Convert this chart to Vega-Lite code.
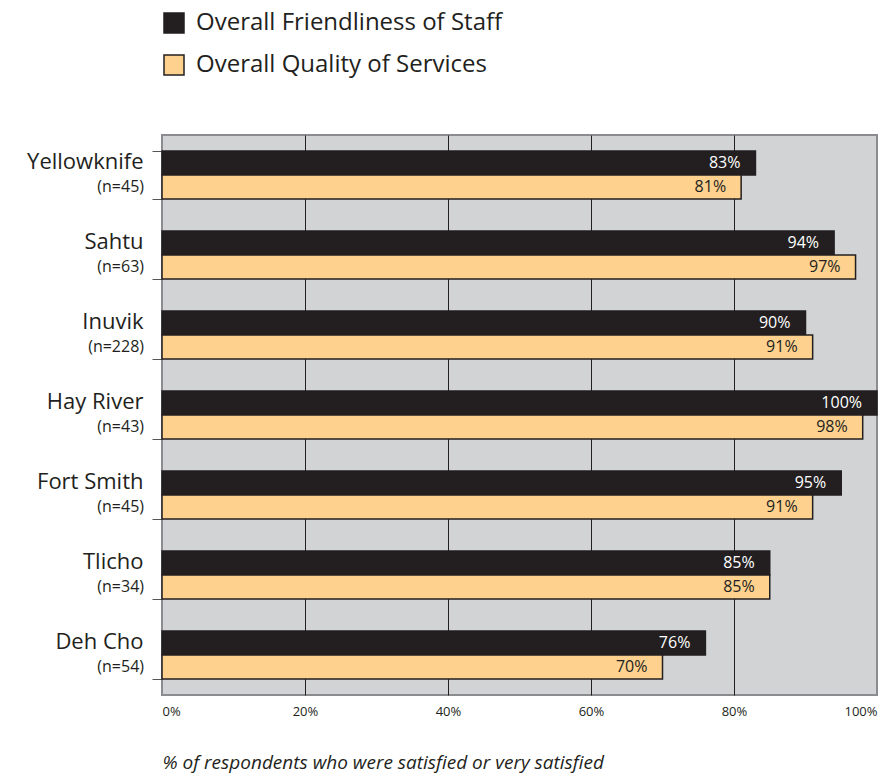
{
  "$schema": "https://vega.github.io/schema/vega-lite/v6.json",
  "width": 715,
  "height": 560,
  "autosize": {"type": "none"},
  "padding": {"left": 162, "top": 135, "right": 10, "bottom": 80},
  "background": "white",
  "config": {
    "font": "Open Sans",
    "view": {"fill": "#d1d3d4", "stroke": "#8a8c8f", "strokeWidth": 2}
  },
  "data": {
    "values": [
      {"region": "Yellowknife", "n": "(n=45)", "series": "Overall Friendliness of Staff", "value": 0.83},
      {"region": "Yellowknife", "n": "(n=45)", "series": "Overall Quality of Services", "value": 0.81},
      {"region": "Sahtu", "n": "(n=63)", "series": "Overall Friendliness of Staff", "value": 0.94},
      {"region": "Sahtu", "n": "(n=63)", "series": "Overall Quality of Services", "value": 0.97},
      {"region": "Inuvik", "n": "(n=228)", "series": "Overall Friendliness of Staff", "value": 0.90},
      {"region": "Inuvik", "n": "(n=228)", "series": "Overall Quality of Services", "value": 0.91},
      {"region": "Hay River", "n": "(n=43)", "series": "Overall Friendliness of Staff", "value": 1.00},
      {"region": "Hay River", "n": "(n=43)", "series": "Overall Quality of Services", "value": 0.98},
      {"region": "Fort Smith", "n": "(n=45)", "series": "Overall Friendliness of Staff", "value": 0.95},
      {"region": "Fort Smith", "n": "(n=45)", "series": "Overall Quality of Services", "value": 0.91},
      {"region": "Tlicho", "n": "(n=34)", "series": "Overall Friendliness of Staff", "value": 0.85},
      {"region": "Tlicho", "n": "(n=34)", "series": "Overall Quality of Services", "value": 0.85},
      {"region": "Deh Cho", "n": "(n=54)", "series": "Overall Friendliness of Staff", "value": 0.76},
      {"region": "Deh Cho", "n": "(n=54)", "series": "Overall Quality of Services", "value": 0.70}
    ]
  },
  "encoding": {
    "y": {
      "field": "region",
      "type": "nominal",
      "sort": ["Yellowknife", "Sahtu", "Inuvik", "Hay River", "Fort Smith", "Tlicho", "Deh Cho"],
      "scale": {"paddingInner": 0.4, "paddingOuter": 0.2},
      "axis": {
        "title": null,
        "domain": false,
        "tickBand": "extent",
        "tickSize": 10,
        "tickColor": "#555557",
        "tickWidth": 1,
        "labelFontSize": 22,
        "labelColor": "#231f20",
        "labelOffset": -14,
        "labelPadding": 9
      }
    }
  },
  "layer": [
    {
      "mark": {"type": "bar", "stroke": "#231f20", "strokeWidth": 1.5},
      "encoding": {
        "x": {
          "field": "value",
          "type": "quantitative",
          "scale": {"domain": [0, 1], "nice": false},
          "axis": {
            "values": [0, 0.2, 0.4, 0.6, 0.8, 1],
            "format": ".0%",
            "domain": false,
            "ticks": false,
            "labelFontSize": 13,
            "labelColor": "#231f20",
            "labelPadding": 10,
            "grid": true,
            "gridColor": {"condition": {"test": "datum.value > 0 && datum.value < 1", "value": "#231f20"}, "value": null},
            "gridWidth": 1,
            "gridOpacity": 1,
            "title": "% of respondents who were satisfied or very satisfied",
            "titleFont": "Open Sans",
            "titleFontStyle": "italic",
            "titleFontWeight": "normal",
            "titleFontSize": 19,
            "titleColor": "#231f20",
            "titleAnchor": "start",
            "titleAlign": "left",
            "titlePadding": 35
          }
        },
        "yOffset": {
          "field": "series",
          "type": "nominal",
          "sort": ["Overall Friendliness of Staff", "Overall Quality of Services"],
          "scale": {"paddingInner": 0, "paddingOuter": 0}
        },
        "color": {
          "field": "series",
          "type": "nominal",
          "scale": {
            "domain": ["Overall Friendliness of Staff", "Overall Quality of Services"],
            "range": ["#231f20", "#fed18e"]
          },
          "legend": {
            "title": null,
            "orient": "none",
            "legendX": 0,
            "legendY": -124,
            "direction": "vertical",
            "symbolType": "square",
            "symbolSize": 400,
            "symbolStrokeColor": "#231f20",
            "symbolStrokeWidth": 1.5,
            "symbolOpacity": 1,
            "labelFontSize": 24,
            "labelColor": "#231f20",
            "labelOffset": 10,
            "rowPadding": 16,
            "labelLimit": 600
          }
        }
      }
    },
    {
      "mark": {"type": "text", "align": "right", "baseline": "middle", "dx": -15, "fontSize": 16},
      "encoding": {
        "x": {"field": "value", "type": "quantitative"},
        "yOffset": {
          "field": "series",
          "type": "nominal",
          "sort": ["Overall Friendliness of Staff", "Overall Quality of Services"]
        },
        "text": {"field": "value", "type": "quantitative", "format": ".0%"},
        "color": {
          "condition": {"test": "datum.series === 'Overall Friendliness of Staff'", "value": "white"},
          "value": "#231f20"
        }
      }
    },
    {
      "transform": [{"filter": "datum.series === 'Overall Friendliness of Staff'"}],
      "mark": {"type": "text", "align": "right", "baseline": "middle", "dx": -18, "dy": 12, "fontSize": 16, "color": "#231f20"},
      "encoding": {
        "x": {"datum": 0, "type": "quantitative"},
        "text": {"field": "n", "type": "nominal"}
      }
    }
  ]
}
